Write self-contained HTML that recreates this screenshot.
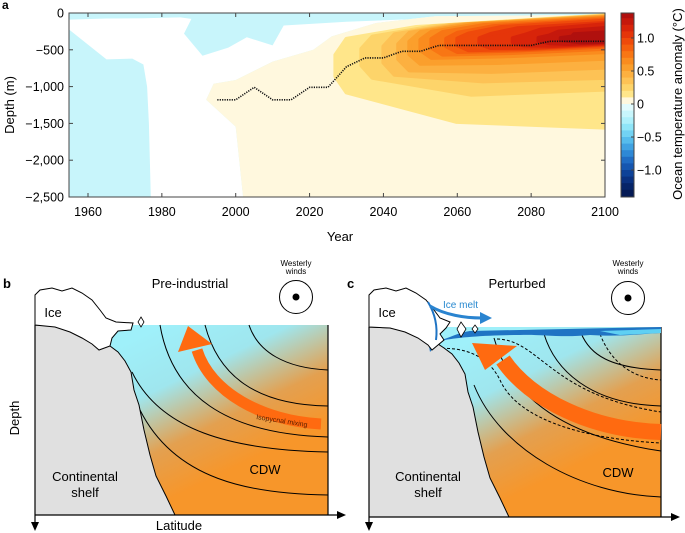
<!DOCTYPE html>
<html><head><meta charset="utf-8"><style>
html,body{margin:0;padding:0;background:#fff;}
svg{display:block;font-family:"Liberation Sans",sans-serif;}
</style></head><body>
<svg id="fig" width="685" height="533" viewBox="0 0 685 533" xmlns="http://www.w3.org/2000/svg">
<defs>
<linearGradient id="gb" x1="0.3" y1="0.1" x2="0.75" y2="0.7">
<stop offset="0" stop-color="#9ff0fa"/><stop offset="0.35" stop-color="#9fe6ee"/><stop offset="0.7" stop-color="#e3a050"/><stop offset="1" stop-color="#f7962a"/>
</linearGradient>
<clipPath id="pc"><rect x="69" y="13" width="536" height="184"/></clipPath>
</defs>
<text x="2" y="9" font-size="12" font-weight="bold">a</text>
<g id="plotA" clip-path="url(#pc)"></g>
<g id="axesA"></g>
<g id="cbar"></g>
<text x="340" y="241" font-size="13" text-anchor="middle">Year</text>
<text transform="translate(14,105) rotate(-90)" font-size="13" text-anchor="middle">Depth (m)</text>
<text transform="translate(682,104) rotate(-90)" font-size="13" text-anchor="middle">Ocean temperature anomaly (°C)</text>

<!-- Panel b -->
<g>
<text x="3" y="288" font-size="13" font-weight="bold">b</text>
<text x="190" y="288" font-size="13" text-anchor="middle">Pre-industrial</text>
<text x="296" y="266" font-size="8" text-anchor="middle">Westerly</text>
<text x="296" y="274" font-size="8" text-anchor="middle">winds</text>
<circle cx="296" cy="297" r="16.5" fill="none" stroke="#000" stroke-width="1"/>
<circle cx="296" cy="297" r="3.5" fill="#000"/>
<rect x="35" y="325" width="293" height="190" fill="url(#gb)"/>
<line x1="328" y1="325" x2="328" y2="515" stroke="#000" stroke-width="1.2"/>
<g fill="none" stroke="#000" stroke-width="1">
<path d="M249,325 C258,352 285,368 328,370"/>
<path d="M205,325 C218,375 255,405 328,406"/>
<path d="M160,325 C172,395 225,434 328,437"/>
<path d="M132,372 C160,430 230,450 328,452"/>
<path d="M140,410 C175,480 250,494 328,495"/>
</g>
<path d="M35,325 L60,326 L80,331 L98,338 L110,346 L118,352 L125,361 L131,372 L134,390 L139,405 L144,430 L150,455 L156,476 L166,496 L175,515 L35,515 Z" fill="#e0e0e0" stroke="#000" stroke-width="1"/>
<path d="M35,325 L35,295 L40,290 L52,288 L62,291 L72,288 L82,293 L92,300 L100,310 L106,318 L116,322 L133,323 L131,330 L118,331 L112,338 L110,346 L99,350 L92,344 L82,338 L70,332 L55,327 Z" fill="#fff" stroke="#000" stroke-width="1"/>
<path d="M141,317 L144,322 L141,327 L138,322 Z" fill="#fff" stroke="#000" stroke-width="0.8"/>
<path d="M321,424 C262,421 210,392 197,350" fill="none" stroke="#ff6a10" stroke-width="11"/>
<polygon points="188,326 178,352 212,344" fill="#ff6a10"/>
<text transform="translate(256,419) rotate(9)" font-size="7" fill="#5a2000">Isopycnal mixing</text>
<text x="53" y="317" font-size="13" text-anchor="middle">Ice</text>
<text x="85" y="481" font-size="13" text-anchor="middle">Continental</text>
<text x="85" y="497" font-size="13" text-anchor="middle">shelf</text>
<text x="265" y="474" font-size="13" text-anchor="middle">CDW</text>
<line x1="35" y1="515" x2="340" y2="515" stroke="#000" stroke-width="1.2"/>
<polygon points="346,515 337,511 337,519" fill="#000"/>
<line x1="35" y1="325" x2="35" y2="524" stroke="#000" stroke-width="1.2"/>
<polygon points="35,531 31,522 39,522" fill="#000"/>
<text x="179" y="530" font-size="13" text-anchor="middle">Latitude</text>
<text transform="translate(19,418) rotate(-90)" font-size="13" text-anchor="middle">Depth</text>
</g>

<!-- Panel c -->
<g>
<text x="347" y="288" font-size="13" font-weight="bold">c</text>
<text x="517" y="288" font-size="13" text-anchor="middle">Perturbed</text>
<text x="628" y="266" font-size="8" text-anchor="middle">Westerly</text>
<text x="628" y="274" font-size="8" text-anchor="middle">winds</text>
<circle cx="628" cy="298" r="16.5" fill="none" stroke="#000" stroke-width="1"/>
<circle cx="628" cy="298" r="3.5" fill="#000"/>
<rect x="369" y="327" width="292" height="190" fill="url(#gb)"/>
<line x1="661" y1="327" x2="661" y2="517" stroke="#000" stroke-width="1.2"/>
<g fill="none" stroke="#000" stroke-width="1">
<path d="M581,333 C590,355 610,368 661,370"/>
<path d="M544,334 C555,370 590,404 661,406"/>
<path d="M494,338 C510,395 560,436 661,451"/>
<path d="M474,385 C500,450 580,494 661,497"/>
</g>
<g fill="none" stroke="#000" stroke-width="1" stroke-dasharray="3,2">
<path d="M600,334 C610,360 630,378 661,380"/>
<path d="M497,339 C540,340 550,395 661,412"/>
<path d="M432,349 C470,345 490,360 500,380 C520,425 600,440 661,443"/>
</g>
<path d="M369,327 L394,328 L414,333 L432,340 L444,348 L452,354 L459,363 L465,374 L468,392 L473,407 L478,432 L484,457 L490,478 L500,498 L509,517 L369,517 Z" fill="#e0e0e0" stroke="#000" stroke-width="1"/>
<path d="M428,340 C440,345 450,334 470,331 L661,327 L661,333 C640,334 620,337 590,335 C560,338 540,334 520,335 C490,335 460,337 445,340 C436,343 432,350 430,352 Z" fill="#1f74c4"/>
<path d="M600,331 L661,329 L661,333 L620,335 Z" fill="#5fd0f3"/>
<path d="M369,327 L369,295 L374,290 L386,288 L396,291 L406,288 L416,293 L426,300 L434,310 L440,318 L450,322 L446,328 L440,334 L444,340 L438,345 L432,350 L428,345 L418,338 L405,332 L390,328 Z" fill="#fff" stroke="#000" stroke-width="1"/>
<path d="M428,302 C434,312 438,325 436,340" fill="none" stroke="#1f74c4" stroke-width="2"/>
<path d="M461,322 L466,329 L461,337 L457,329 Z" fill="#fff" stroke="#000" stroke-width="0.8"/>
<path d="M475,325 L478,329 L475,333 L472,329 Z" fill="#fff" stroke="#000" stroke-width="0.8"/>
<path d="M430,306 C445,315 465,318 482,318" fill="none" stroke="#2a84d0" stroke-width="3"/>
<polygon points="492,318 480,312 480,324" fill="#2a84d0"/>
<text x="443" y="308" font-size="10" fill="#2a8ad0">Ice melt</text>
<path d="M661,432 C592,430 530,400 503,360" fill="none" stroke="#ff6a10" stroke-width="16"/>
<polygon points="472,343 485,370 517,346" fill="#ff6a10"/>
<text x="387" y="317" font-size="13" text-anchor="middle">Ice</text>
<text x="428" y="481" font-size="13" text-anchor="middle">Continental</text>
<text x="428" y="497" font-size="13" text-anchor="middle">shelf</text>
<text x="618" y="477" font-size="13" text-anchor="middle">CDW</text>
<line x1="369" y1="517" x2="673" y2="517" stroke="#000" stroke-width="1.2"/>
<polygon points="680,517 671,513 671,521" fill="#000"/>
<line x1="369" y1="327" x2="369" y2="524" stroke="#000" stroke-width="1.2"/>
<polygon points="369,531 365,522 373,522" fill="#000"/>
</g>
</svg>
<script>
// ---- data ----
const yearTicks = [1960, 1980, 2000, 2020, 2040, 2060, 2080, 2100];
const depthTicks = [0, -500, -1000, -1500, -2000, -2500];
const depthTickLabels = ["0", "\u2212500", "\u22121,000", "\u22121,500", "\u22122,000", "\u22122,500"];
const cbarTicks = [1.0, 0.5, 0, -0.5, -1.0];
const cbarTickLabels = ["1.0", "0.5", "0", "\u22120.5", "\u22121.0"];
const maxYears = [1995, 2000, 2005, 2010, 2015, 2020, 2025, 2030, 2035, 2040, 2045, 2050, 2055, 2060, 2070, 2080, 2085, 2090, 2100];
const maxDepths = [-1180, -1180, -1010, -1180, -1180, -1010, -1010, -730, -610, -610, -520, -520, -440, -440, -440, -440, -385, -385, -385];
const levelValues = [0.1, 0.2, 0.3, 0.4, 0.5, 0.6, 0.7, 0.8, 0.9, 1.0, 1.1, 1.2, 1.3];
const levelStart = [2027, 2034, 2040, 2044, 2047, 2050, 2053, 2057, 2060, 2066, 2075, 2082, 2088];
const levelTopLeft = [-350, -320, -290, -270, -260, -255, -260, -270, -280, -285, -300, -305, -320];
const levelBotLeft = [-1080, -880, -840, -780, -690, -610, -565, -530, -505, -475, -440, -410, -385];
const levelBotMid = [-1480, -1110, -930, -800, -680, -590, -545, -510, -490, -470, -445, -420, -400];
const levelBotRight = [-1560, -1040, -880, -740, -620, -530, -485, -455, -435, -420, -410, -400, -390];
const levelTopRight = [-30, -35, -40, -45, -50, -60, -70, -85, -100, -130, -150, -200, -260];
const creamYears = [2002, 2000, 1992, 1994, 2000, 2010, 2021, 2026, 2038, 2054, 2100];
const creamDepths = [-2500, -1545, -1180, -960, -910, -660, -500, -318, -136, -45, -25];
const whiteYears = [1955, 1965, 1975, 1985, 1988, 1986, 1991, 1998, 2003, 2010, 2013, 2030, 2060, 2100];
const whiteDepths = [-90, -75, -70, -60, -80, -280, -580, -470, -330, -440, -170, -120, -60, -25];
const whiteLowYears = [1977, 1976.5, 1976, 1975, 1972, 1965, 1960, 1955];
const whiteLowDepths = [-2500, -1500, -1000, -700, -620, -630, -430, -230];
const cbarLevels = [1.3,1.2,1.1,1.0,0.9,0.8,0.7,0.6,0.5,0.4,0.3,0.2,0.1,0.0,-0.1,-0.2,-0.3,-0.4,-0.5,-0.6,-0.7,-0.8,-0.9,-1.0,-1.1,-1.2,-1.3,-1.4];
const cbarColors = ["#b0100e","#c5180c","#d8240a","#e5350a","#ef4a0b","#f5600e","#f87614","#fa8c1e","#fb9f2c","#fcb040","#fdc255","#fdd46a","#ffe68a","#fff8de","#e2fbfd","#c8f6fc","#aef0fb","#8fe5f8","#72d2f3","#56bcec","#40a2e2","#2e88d6","#206cc4","#1656b0","#0e4298","#0a3180","#062468","#041a55"];
const levelColors = ["#ffe68a","#fdd46a","#fdc255","#fcb040","#fb9f2c","#fa8c1e","#f87614","#f5600e","#ef4a0b","#e5350a","#d8240a","#c5180c","#b0100e"];

// ---- axes ----
const X0 = 69, X1 = 605, Y0 = 13, Y1 = 197;
function xs(yr){ return 88 + (yr - 1960) * (605 - 88) / 140; }
function ys(d){ return Y0 + (-d) / 2500 * (Y1 - Y0); }
const CB0 = 104, CBS = 66;
function cs(v){ return CB0 - v * CBS; }
const NS = "http://www.w3.org/2000/svg";
function mk(tag, parent){ const e = document.createElementNS(NS, tag); parent.appendChild(e); return e; }
function pts(yrs, ds){ return yrs.map((y,i)=>xs(y).toFixed(1)+","+ys(ds[i]).toFixed(1)); }

const plot = document.getElementById('plotA');
const bg = mk('rect', plot);
bg.setAttribute('x', X0); bg.setAttribute('y', Y0); bg.setAttribute('width', X1-X0); bg.setAttribute('height', Y1-Y0);
bg.setAttribute('fill', '#c8f5fb');



const wp = pts(whiteYears, whiteDepths).concat(pts(creamYears.slice().reverse(), creamDepths.slice().reverse())).concat(pts(whiteLowYears, whiteLowDepths));
const wh = mk('polygon', plot);
wh.setAttribute('points', wp.join(' ')); wh.setAttribute('fill', '#ffffff');



const cp = pts(creamYears, creamDepths).concat([xs(2100)+","+ys(-2500)]);
const cr = mk('polygon', plot);
cr.setAttribute('points', cp.join(' ')); cr.setAttribute('fill', '#fff8de');



levelValues.forEach((v, i) => {
  const L = levelStart[i];
  const mid = L + (2100 - L) * 0.45;
  const yrs = [L, L + 3, L + (2100-L)*0.3, 2101, 2101, mid, L + 3, L];
  const ds = [levelTopLeft[i]*0.7+levelBotLeft[i]*0.3, levelTopLeft[i], (levelTopLeft[i]+levelTopRight[i])/2, levelTopRight[i], levelBotRight[i], levelBotMid[i], levelBotLeft[i], levelBotLeft[i]*0.7+levelTopLeft[i]*0.3];
  const p = mk('polygon', plot);
  p.setAttribute('points', pts(yrs, ds).join(' '));
  p.setAttribute('fill', levelColors[i]);
  p.setAttribute('stroke', levelColors[i]);
  p.setAttribute('stroke-linejoin', 'round');
  p.setAttribute('stroke-width', '4');
  
  
});

const ml = mk('polyline', plot);
ml.setAttribute('points', pts(maxYears, maxDepths).join(' '));
ml.setAttribute('fill', 'none'); ml.setAttribute('stroke', '#111'); ml.setAttribute('stroke-width', '1.6'); ml.setAttribute('stroke-dasharray', '1.2,1.2');



const ax = document.getElementById('axesA');
const fr = mk('rect', ax);
fr.setAttribute('x', X0); fr.setAttribute('y', Y0); fr.setAttribute('width', X1-X0); fr.setAttribute('height', Y1-Y0);
fr.setAttribute('fill', 'none'); fr.setAttribute('stroke', '#444'); fr.setAttribute('stroke-width', '1');


yearTicks.forEach(yr => {
  const x = xs(yr);
  [[Y1, Y1-4],[Y0, Y0+4]].forEach(([a,b]) => {
    const t = mk('line', ax);
    t.setAttribute('x1', x); t.setAttribute('x2', x); t.setAttribute('y1', a); t.setAttribute('y2', b);
    t.setAttribute('stroke', '#444');
    
    
  });
  const l = mk('text', ax);
  l.setAttribute('x', x); l.setAttribute('y', 216); l.setAttribute('font-size', '12.5'); l.setAttribute('text-anchor', 'middle');
  l.textContent = yr;
  
  
});
depthTicks.forEach((d, i) => {
  const y = ys(d);
  [[X0, X0+4],[X1, X1-4]].forEach(([a,b]) => {
    const t = mk('line', ax);
    t.setAttribute('x1', a); t.setAttribute('x2', b); t.setAttribute('y1', y); t.setAttribute('y2', y);
    t.setAttribute('stroke', '#444');
    
    
  });
  const l = mk('text', ax);
  l.setAttribute('x', 64); l.setAttribute('y', y + 4.5); l.setAttribute('font-size', '12.5'); l.setAttribute('text-anchor', 'end');
  l.textContent = depthTickLabels[i];
  
  
});

const cb = document.getElementById('cbar');
cbarLevels.forEach((v, i) => {
  const r = mk('rect', cb);
  const top = Math.max(13, cs(v + 0.1));
  r.setAttribute('x', 621); r.setAttribute('width', 13);
  r.setAttribute('y', top); r.setAttribute('height', Math.min(197, cs(v)) - top + 0.5);
  r.setAttribute('fill', cbarColors[i]);
  
  
});
const cbf = mk('rect', cb);
cbf.setAttribute('x', 621); cbf.setAttribute('y', 13); cbf.setAttribute('width', 13); cbf.setAttribute('height', 184);
cbf.setAttribute('fill', 'none'); cbf.setAttribute('stroke', '#444');


cbarTicks.forEach((v, i) => {
  const t = mk('line', cb);
  t.setAttribute('x1', 631); t.setAttribute('x2', 634); t.setAttribute('y1', cs(v)); t.setAttribute('y2', cs(v));
  t.setAttribute('stroke', '#444');
  
  
  const l = mk('text', cb);
  l.setAttribute('x', 637); l.setAttribute('y', cs(v) + 4.5); l.setAttribute('font-size', '12.5');
  l.textContent = cbarTickLabels[i];
  
  
});
</script>
</body></html>
